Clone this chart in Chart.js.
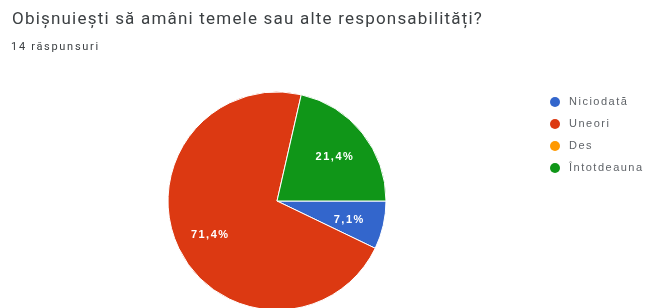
<!DOCTYPE html>
<html>
<head>
<meta charset="utf-8">
<script src="https://cdn.jsdelivr.net/npm/chart.js@4/dist/chart.umd.min.js"></script>
<style>
  html, body { margin: 0; padding: 0; background: #fff; }
  #wrap { position: relative; width: 648px; height: 308px; overflow: hidden; }
  #title { position: absolute; left: 12px; top: 8px; font-family: Roboto, "Noto Sans", sans-serif; font-size: 17px; letter-spacing: 1.2px; color: #3c4043; white-space: nowrap; }
  #sub { position: absolute; left: 11px; top: 40px; font-family: Roboto, "Noto Sans", sans-serif; font-size: 11px; letter-spacing: 1.7px; color: #3c4043; white-space: nowrap; }
  canvas { position: absolute; left: 0; top: 0; }
</style>
</head>
<body>
<div id="wrap">
  <canvas id="c" width="648" height="308"></canvas>
  <div id="title">Obișnuiești să amâni temele sau alte responsabilități?</div>
  <div id="sub">14 răspunsuri</div>
</div>
<script>
const categories = ["Niciodată", "Uneori", "Des", "Întotdeauna"];
const responses = [1, 10, 0, 3];
const percentLabels = ["7,1%", "71,4%", "", "21,4%"];
const colors = ["#3366cc", "#dc3912", "#ff9900", "#109618"];

const sliceLabels = {
  id: "sliceLabels",
  afterDatasetsDraw(chart) {
    const ctx = chart.ctx;
    const meta = chart.getDatasetMeta(0);
    ctx.save();
    ctx.font = "bold 11px 'Liberation Sans', Arial, sans-serif";
    if ("letterSpacing" in ctx) ctx.letterSpacing = "1.5px";
    ctx.fillStyle = "#ffffff";
    ctx.textAlign = "center";
    ctx.textBaseline = "middle";
    meta.data.forEach((arc, i) => {
      if (!percentLabels[i]) return;
      const p = arc.getProps(["x", "y", "startAngle", "endAngle", "outerRadius"], true);
      const mid = (p.startAngle + p.endAngle) / 2;
      const r = p.outerRadius * 0.68;
      ctx.fillText(percentLabels[i], p.x + Math.cos(mid) * r, p.y + Math.sin(mid) * r + 2);
    });
    ctx.restore();
  }
};

const customLegend = {
  id: "customLegend",
  afterDraw(chart) {
    const ctx = chart.ctx;
    ctx.save();
    ctx.font = "11px 'Liberation Sans', Arial, sans-serif";
    if ("letterSpacing" in ctx) ctx.letterSpacing = "1.5px";
    ctx.textBaseline = "middle";
    ctx.textAlign = "left";
    categories.forEach((name, i) => {
      const y = 102 + i * 22;
      ctx.beginPath();
      ctx.fillStyle = colors[i];
      ctx.arc(555, y, 5, 0, Math.PI * 2);
      ctx.fill();
      ctx.fillStyle = "#5f6368";
      ctx.fillText(name, 569, y);
    });
    ctx.restore();
  }
};

new Chart(document.getElementById("c"), {
  type: "pie",
  data: {
    labels: categories,
    datasets: [{
      data: responses,
      backgroundColor: colors,
      borderColor: "#ffffff",
      borderWidth: 1,
      radius: 109
    }]
  },
  options: {
    responsive: false,
    animation: false,
    rotation: 90,
    layout: { padding: { left: 0, right: 94, top: 94, bottom: 0 } },
    plugins: {
      legend: { display: false },
      tooltip: { enabled: false }
    }
  },
  plugins: [sliceLabels, customLegend]
});
</script>
</body>
</html>
